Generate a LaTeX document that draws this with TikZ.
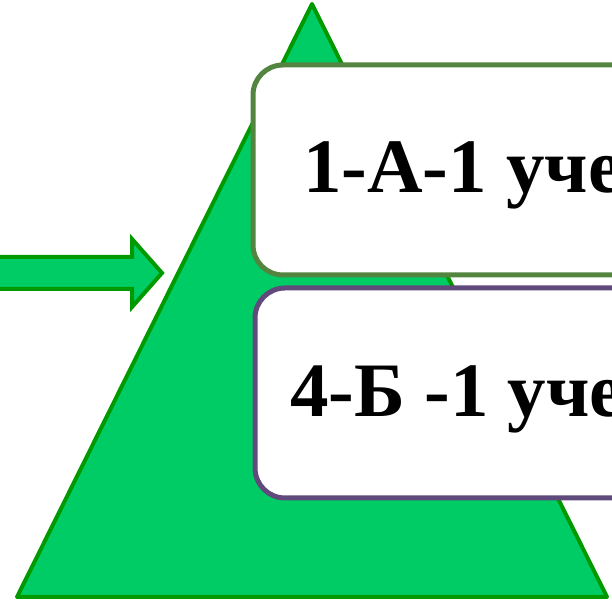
\documentclass[tikz,border=0pt]{standalone}
\usepackage{fontspec}
\setmainfont{Liberation Serif}
\definecolor{trifill}{HTML}{00CC66}
\definecolor{tristroke}{HTML}{009900}
\definecolor{boxgreen}{HTML}{548540}
\definecolor{boxpurple}{HTML}{604A7B}
\tikzset{
  greenshape/.style={fill=trifill, draw=tristroke, line width=4pt},
  boxshape/.style={fill=white, line width=5pt, rounded corners=30pt},
  boxtext/.style={anchor=base west, inner sep=0pt, font=\fontsize{77}{80}\selectfont\bfseries}
}
\begin{document}
\begin{tikzpicture}[x=1pt,y=1pt]
\useasboundingbox (0,0) rectangle (612,601);
\clip (0,0) rectangle (612,601);
\draw[greenshape, line join=round] (312,597) -- (17,4) -- (607,4) -- cycle;
\draw[greenshape, line join=miter] (-20,312) -- (132,312) -- (132,294) -- (162,328) -- (132,362) -- (132,344) -- (-20,344) -- cycle;
\draw[boxshape, draw=boxgreen] (253,326) rectangle (720,536);
\draw[boxshape, draw=boxpurple] (255,103) rectangle (720,313);
\node[boxtext] (t1) at (303,408) {1-А-1 уче};
\node[boxtext] (t2) at (290,184) {4-Б -1 уче};
\end{tikzpicture}
\end{document}
